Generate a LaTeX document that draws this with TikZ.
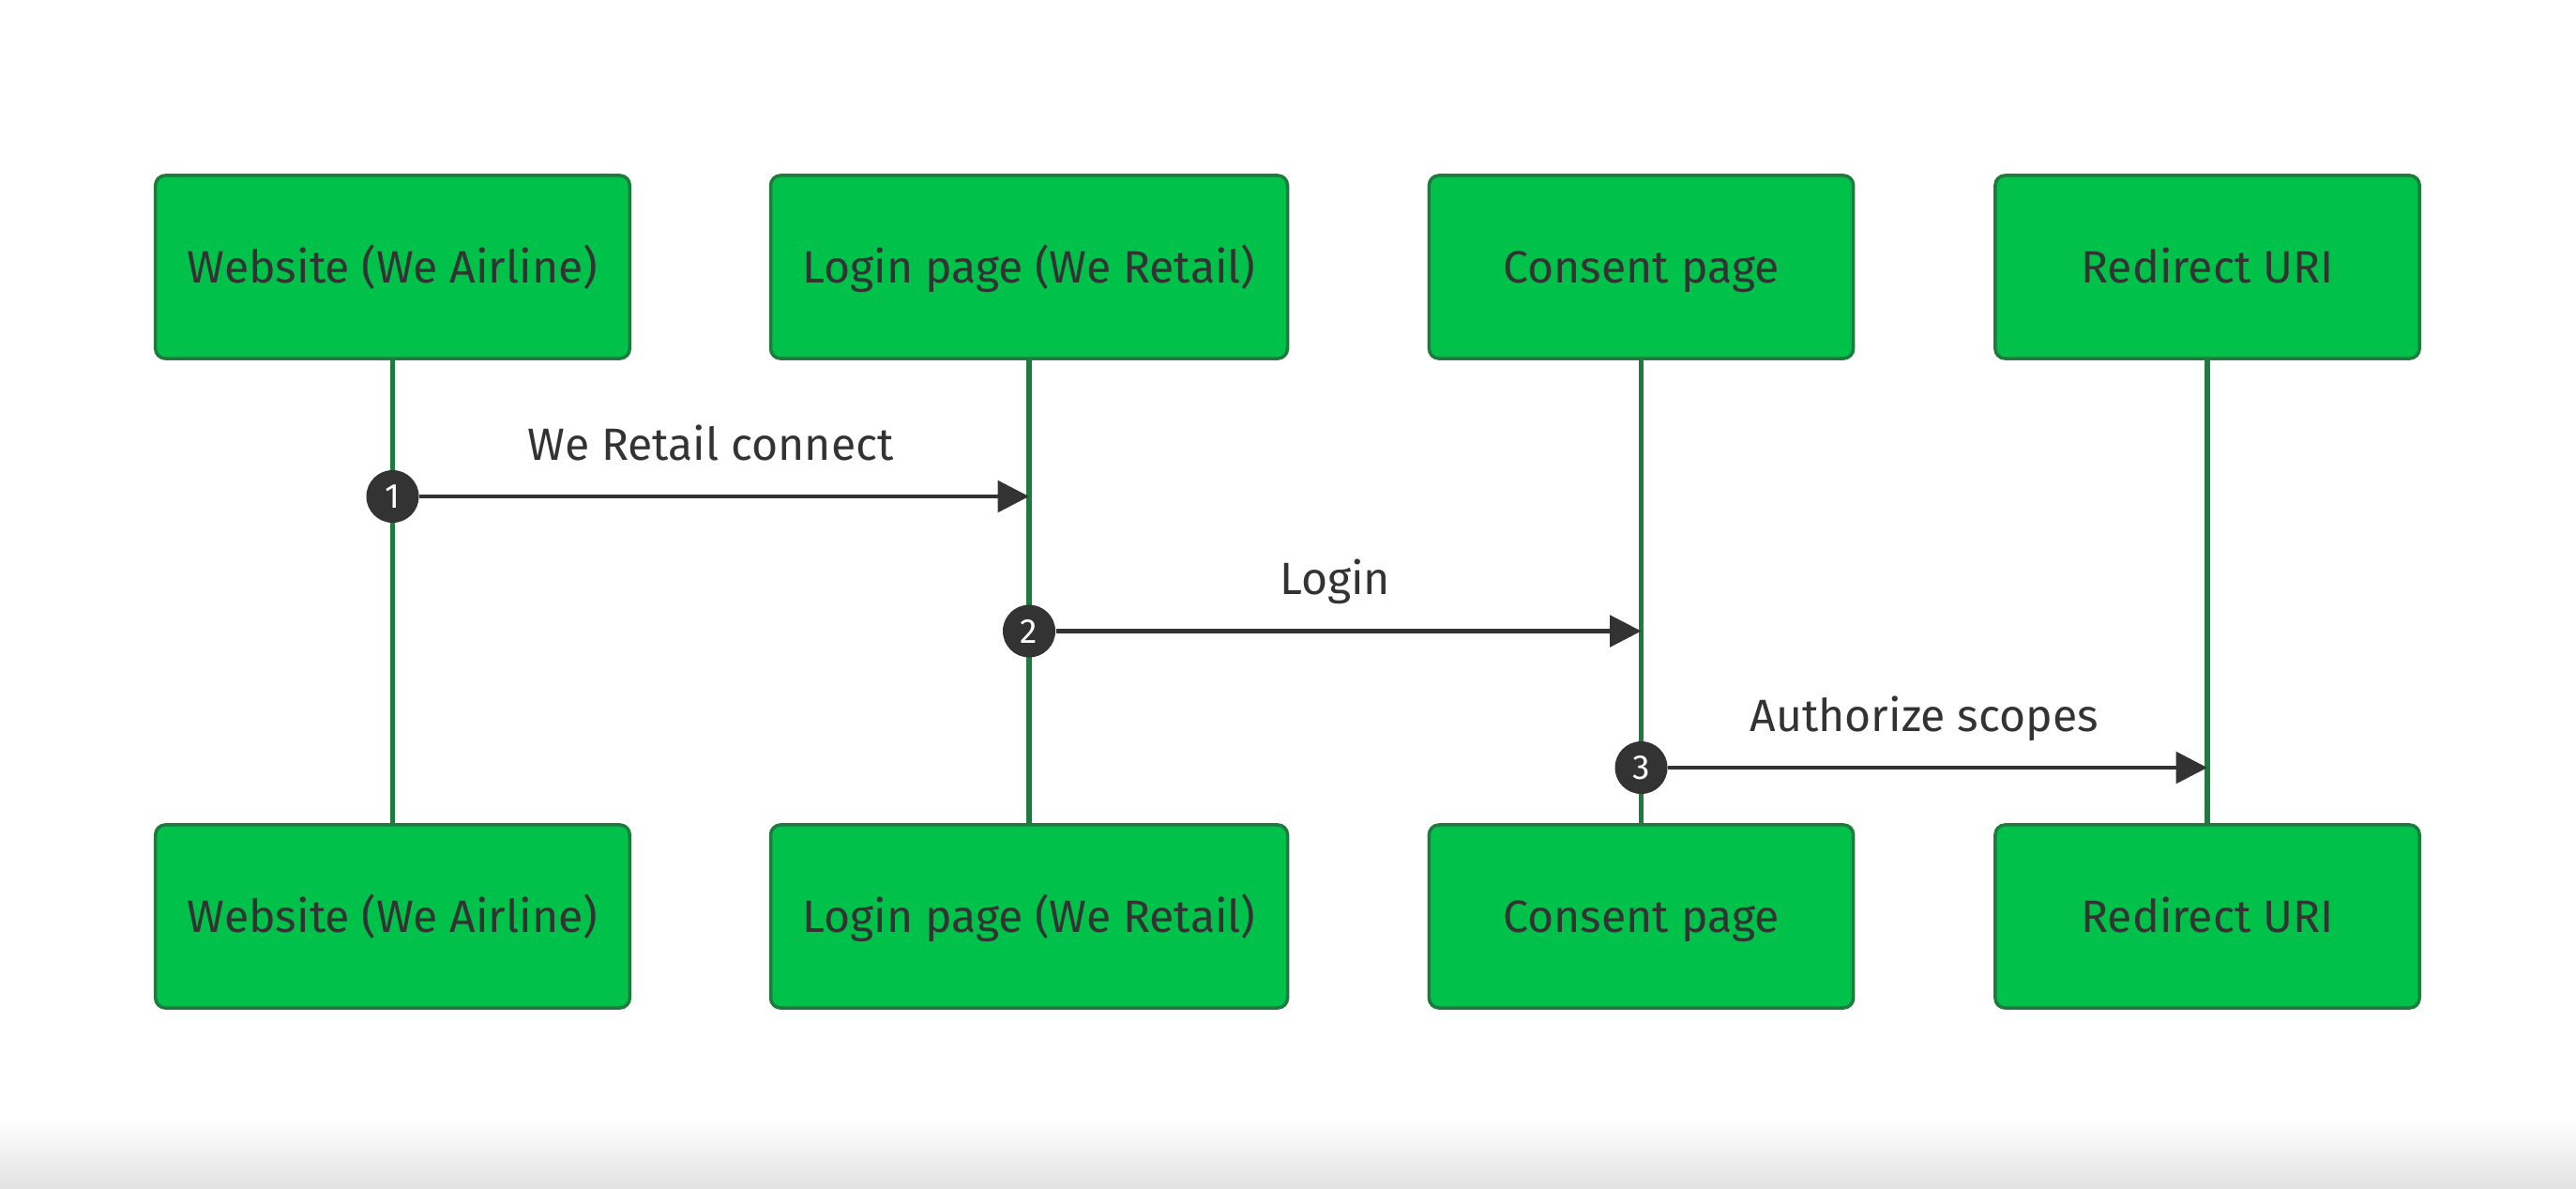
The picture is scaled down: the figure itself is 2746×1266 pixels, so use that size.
\documentclass[tikz,border=0pt]{standalone}
\usepackage{fontspec}
\setmainfont{Fira Sans}
\usetikzlibrary{arrows.meta,calc}

\definecolor{boxgreen}{HTML}{00C24A}
\definecolor{boxborder}{HTML}{1E7B3D}
\definecolor{ink}{HTML}{333333}

\tikzset{
  actor/.style={draw=boxborder, line width=1pt, fill=boxgreen, rounded corners=3pt,
    minimum height=1.95cm, minimum width=4.52cm, inner xsep=0.34cm,
    text height=1.1em, text depth=0.13em,
    text=ink, font=\fontsize{13.7}{16}\selectfont},
  lifeline/.style={draw=boxborder, line width=1.5pt},
  stepnum/.style={circle, fill=ink, text=white, minimum size=0.56cm, inner sep=0pt,
    font=\fontsize{10.5}{12}\selectfont},
  msg/.style={draw=ink, line width=1.2pt, -{Triangle[length=9.5pt,width=9.5pt]}},
  msglabel/.style={text=ink, anchor=base, font=\fontsize{13.7}{16}\selectfont}
}

\begin{document}
\begin{tikzpicture}[x=0.01cm, y=-0.01cm]
    \useasboundingbox (0,0) rectangle (2746,1266);
    % Fond
    \fill[white] (0,0) rectangle (2746,1266);
    \shade[top color=white, bottom color=black!11] (0,1190) rectangle (2746,1266);

    % Acteurs
    \node[actor] (webT) at (418.5,284.5) {Website (We Airline)};
    \node[actor] (loginT) at (1097,284.5) {Login page (We Retail)};
    \node[actor] (consentT) at (1749.5,284.5) {Consent page};
    \node[actor] (redirT) at (2353,284.5) {Redirect URI};

    \node[actor] (webB) at (418.5,976.5) {Website (We Airline)};
    \node[actor] (loginB) at (1097,976.5) {Login page (We Retail)};
    \node[actor] (consentB) at (1749.5,976.5) {Consent page};
    \node[actor] (redirB) at (2353,976.5) {Redirect URI};

    % Lignes de vie
    \draw[lifeline] (webT) -- (webB);
    \draw[lifeline] (loginT) -- (loginB);
    \draw[lifeline] (consentT) -- (consentB);
    \draw[lifeline] (redirT) -- (redirB);

    % Messages
    \node[stepnum] (n1) at (418.5,529) {1};
    \coordinate (e1) at (loginT |- n1);
    \draw[msg] (n1) -- (e1);
    \node[msglabel] (l1) at ($(n1.center)!0.5!(e1)+(0,-39)$) {We Retail connect};

    \node[stepnum] (n2) at (1097,672.5) {2};
    \coordinate (e2) at (consentT |- n2);
    \draw[msg] (n2) -- (e2);
    \node[msglabel] (l2) at ($(n2.center)!0.5!(e2)+(0,-39)$) {Login};

    \node[stepnum] (n3) at (1749.5,818) {3};
    \coordinate (e3) at (redirT |- n3);
    \draw[msg] (n3) -- (e3);
    \node[msglabel] (l3) at ($(n3.center)!0.5!(e3)+(0,-39)$) {Authorize scopes};

\end{tikzpicture}
\end{document}
